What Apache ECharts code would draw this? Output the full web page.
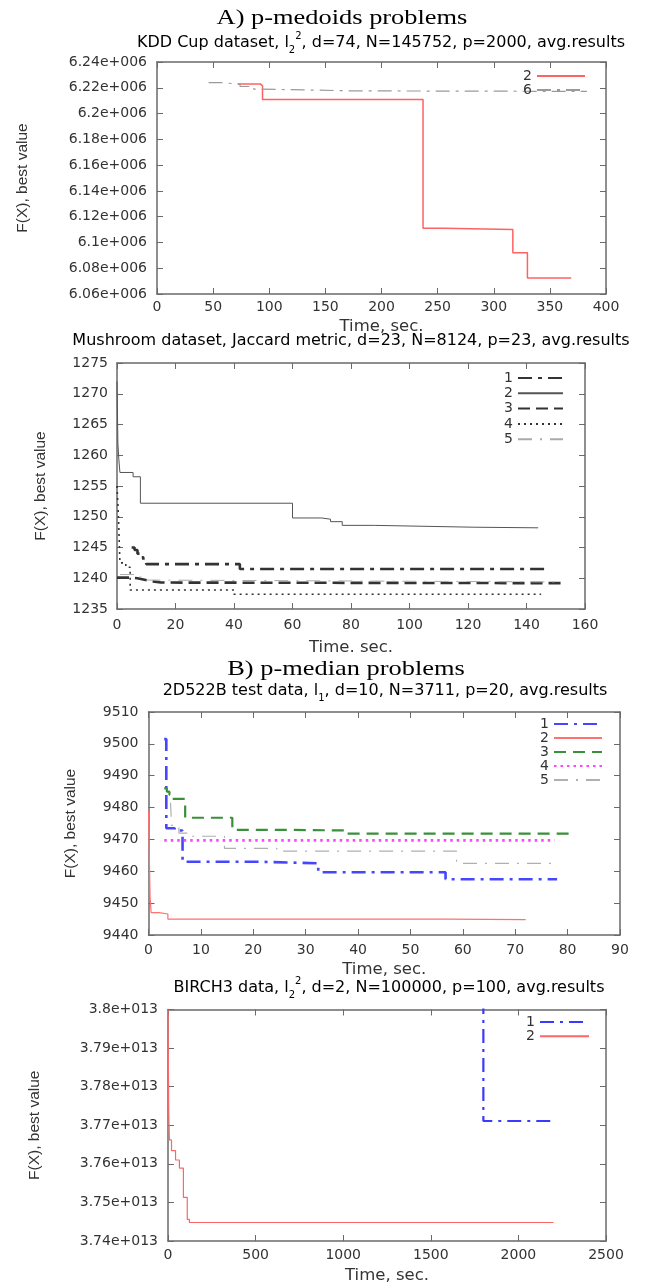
<!DOCTYPE html>
<html>
<head>
<meta charset="utf-8">
<script src="https://cdn.jsdelivr.net/npm/echarts@6/dist/echarts.min.js"></script>
<style>
  * { margin: 0; padding: 0; }
  body { background: #fff; }
</style>
</head>
<body>
<div id="main" style="width: 646px;height: 1287px;"></div>
<script>
// A) KDD Cup, step series [time, F(X)]
var kdd2 = [[72, 6223000], [92, 6221500], [94, 6211000], [237, 6111000], [256, 6110000], [317, 6092000], [330, 6072500], [369, 6072500]];
var kdd6 = [[46, 6224000], [57, 6222800], [74, 6221000], [86, 6219000], [91, 6217600], [175, 6217200], [383, 6217200]];

// A) Mushroom
var mush1 = [[5, 1245], [6, 1244.6], [7, 1244], [8, 1243.4], [9, 1242.8], [10, 1242.3], [42, 1241.5], [147, 1241.5]];
var mush2 = [[0, 1272], [0.3, 1262], [0.6, 1259.5], [1, 1257.2], [5.5, 1256.5], [8, 1252.2], [60, 1249.8], [70, 1249.6], [73, 1249.2], [77, 1248.6], [88, 1248.3], [122, 1248.2], [144, 1248.2]];
var mush3 = [[0, 1240.1], [5, 1240], [7, 1239.8], [9, 1239.5], [12, 1239.3], [15, 1239.2], [153, 1239.2]];
var mush4 = [[0, 1255], [0.5, 1250], [1, 1242.5], [3, 1241.8], [4.5, 1238.1], [40, 1237.4], [145, 1237.4]];
var mush5 = [[1, 1240.6], [6, 1240.2], [10, 1239.7], [14, 1239.4], [150, 1239.4]];

// B) 2D522B
var d1 = [[3, 9501.5], [3.4, 9473.5], [5, 9472.8], [6.5, 9463], [21, 9462.5], [32.4, 9459.7], [56.7, 9457.5], [78, 9457.5]];
var d2 = [[0, 9479], [0.3, 9452], [0.5, 9447], [2, 9446.6], [3.7, 9445], [57, 9444.8], [72, 9444.8]];
var d3 = [[3, 9486], [3.5, 9485], [4, 9484], [4.5, 9482.7], [7, 9476.8], [16, 9473], [27, 9472.8], [38, 9471.8], [80.6, 9471.8]];
var d4 = [[3, 9469.7], [77.5, 9469.7]];
var d5 = [[4.2, 9481.5], [4.4, 9474.4], [5.8, 9472], [7.5, 9471], [14.5, 9467.2], [24.5, 9466.3], [58.8, 9462.5], [77.8, 9462.5]];

// B) BIRCH3
var b1 = [[1800, 3.81e13], [1800, 3.7711e13], [2200, 3.7711e13]];
var b2 = [[0, 3.80e13], [4, 3.774e13], [8, 3.7662e13], [20, 3.7634e13], [43, 3.761e13], [65, 3.7589e13], [88, 3.7513e13], [110, 3.7456e13], [122, 3.7448e13], [2200, 3.7448e13]];

// axis ranges [min, max, interval]
var kddX = [0, 400, 50], kddY = [6060000, 6240000, 20000];
var mushX = [0, 160, 20], mushY = [1235, 1275, 5];
var dX = [0, 90, 10], dY = [9440, 9510, 10];
var bX = [0, 2500, 500], bY = [3.74e13, 3.80e13, 1e11];

var FONT = 'DejaVu Sans';
var TXT = '#333';
var FRAME = '#6a6a6a';

function sci(v, base, exp) {
    return parseFloat((v / base).toFixed(2)) + 'e+' + exp;
}
function plain(v) {
    return String(v);
}

var panels = [
    {
        grid: {left: 157, top: 62, width: 449, height: 232},
        x: kddX, y: kddY, yFmt: function (v) { return sci(v, 1e6, '006'); },
        xName: 'Time, sec.', xNameGap: 24, xMargin: 6, yNameGap: 126, yMargin: 10,
        legend: {right: 60, top: 69, itemWidth: 48, itemGap: 0},
        series: [
            {name: 'a2', data: kdd2, color: '#ff6262', width: 1.5, dash: 'solid'},
            {name: 'a6', data: kdd6, color: '#9a9a9a', width: 1.2, dash: [14, 6, 3, 6]}
        ]
    },
    {
        grid: {left: 117, top: 363, width: 468, height: 246},
        x: mushX, y: mushY, yFmt: plain,
        xName: 'Time. sec.', xNameGap: 30, xMargin: 9, yNameGap: 68, yMargin: 9,
        legend: {right: 82, top: 371, itemWidth: 45, itemGap: 1.3},
        series: [
            {name: 'b1', data: mush1, color: '#333', width: 2.6, dash: [14, 6, 4, 6]},
            {name: 'b2', data: mush2, color: '#555', width: 1, dash: 'solid'},
            {name: 'b3', data: mush3, color: '#333', width: 2.6, dash: [12, 6]},
            {name: 'b4', data: mush4, color: '#333', width: 1.6, dash: [2, 4]},
            {name: 'b5', data: mush5, color: '#aaa', width: 1, dash: [14, 8, 2, 8]}
        ]
    },
    {
        grid: {left: 148.5, top: 712, width: 471.5, height: 223},
        x: dX, y: dY, yFmt: plain,
        xName: 'Time, sec.', xNameGap: 26, xMargin: 8, yNameGap: 70, yMargin: 10,
        legend: {right: 43, top: 717, itemWidth: 48, itemGap: 0},
        series: [
            {name: 'c1', data: d1, color: '#4646ff', width: 2.6, dash: [14, 6, 3, 6]},
            {name: 'c2', data: d2, color: '#ff7070', width: 1.2, dash: 'solid'},
            {name: 'c3', data: d3, color: '#3a903a', width: 2.2, dash: [12, 7]},
            {name: 'c4', data: d4, color: '#ff44ff', width: 2.6, dash: [2.5, 4]},
            {name: 'c5', data: d5, color: '#b0b0b0', width: 1.2, dash: [14, 8, 2, 8]}
        ]
    },
    {
        grid: {left: 168, top: 1009.5, width: 438, height: 231.5},
        x: bX, y: bY, yFmt: function (v) { return sci(v, 1e13, '013'); },
        xName: 'Time, sec.', xNameGap: 26, xMargin: 7, yNameGap: 125, yMargin: 10,
        legend: {right: 56, top: 1015, itemWidth: 49, itemGap: 0.3},
        series: [
            {name: 'd1', data: b1, color: '#3a3aff', width: 2.2, dash: [14, 6, 3, 6]},
            {name: 'd2', data: b2, color: '#ff6666', width: 1.2, dash: 'solid'}
        ]
    }
];

function axisBase(g, r, pos) {
    return {
        type: 'value', gridIndex: g, position: pos,
        min: r[0], max: r[1], interval: r[2],
        axisLine: {show: true, onZero: false, lineStyle: {color: FRAME, width: 1.5}},
        axisTick: {show: true, inside: true, length: 6, lineStyle: {color: FRAME, width: 1}},
        splitLine: {show: false}
    };
}

var grids = [], xAxes = [], yAxes = [], series = [], legends = [];
panels.forEach(function (p, i) {
    grids.push(p.grid);

    var xb = axisBase(i, p.x, 'bottom');
    xb.name = p.xName;
    xb.nameLocation = 'middle';
    xb.nameGap = p.xNameGap;
    xb.nameTextStyle = {fontFamily: FONT, fontSize: 16.5, color: TXT};
    xb.axisLabel = {fontFamily: FONT, fontSize: 14, color: TXT, margin: p.xMargin, formatter: plain};
    var xt = axisBase(i, p.x, 'top');
    xt.axisLabel = {show: false};
    xAxes.push(xb, xt);

    var yl = axisBase(i, p.y, 'left');
    yl.name = 'F(X), best value';
    yl.nameLocation = 'middle';
    yl.nameGap = p.yNameGap;
    yl.nameTextStyle = {fontFamily: 'Liberation Sans', fontSize: 15.5, color: TXT};
    yl.axisLabel = {fontFamily: FONT, fontSize: 14, color: TXT, margin: p.yMargin, formatter: p.yFmt};
    var yr = axisBase(i, p.y, 'right');
    yr.axisLabel = {show: false};
    yAxes.push(yl, yr);

    p.series.forEach(function (s) {
        series.push({
            type: 'line', name: s.name, data: s.data,
            xAxisIndex: 2 * i, yAxisIndex: 2 * i,
            step: 'end', symbol: 'none', showSymbol: false, clip: true,
            lineStyle: {color: s.color, width: s.width, type: s.dash, cap: 'butt'},
            itemStyle: {color: s.color}
        });
    });

    legends.push({
        data: p.series.map(function (s) { return s.name; }),
        orient: 'vertical', right: p.legend.right, top: p.legend.top,
        padding: 0,
        align: 'right', itemWidth: p.legend.itemWidth, itemHeight: 8,
        itemGap: p.legend.itemGap, selectedMode: false,
        itemStyle: {opacity: 0},
        formatter: function (n) { return n.slice(1); },
        textStyle: {fontFamily: FONT, fontSize: 14, color: TXT, lineHeight: 10}
    });
});

var subRich = {
    a: {fontFamily: FONT, fontSize: 16, color: TXT, lineHeight: 24},
    sub: {fontFamily: FONT, fontSize: 10, color: TXT, verticalAlign: 'bottom'},
    sup: {fontFamily: FONT, fontSize: 10, color: TXT, verticalAlign: 'top'}
};

function caption(x, y, text) {
    return {
        type: 'text', x: x, y: y, silent: true,
        style: {text: text, rich: subRich, align: 'center', verticalAlign: 'middle',
                textAlign: 'center', textVerticalAlign: 'middle'}
    };
}

function heading(x, y, text) {
    return {
        type: 'text', x: x, y: y, scaleX: 1.2, silent: true,
        style: {text: text, font: '22px "Liberation Serif"', fill: '#000',
                align: 'center', verticalAlign: 'middle',
                textAlign: 'center', textVerticalAlign: 'middle'}
    };
}

var chart = echarts.init(document.getElementById('main'));
chart.setOption({
    backgroundColor: '#fff',
    animation: false,
    grid: grids,
    xAxis: xAxes,
    yAxis: yAxes,
    legend: legends,
    series: series,
    graphic: [
        heading(342, 18, 'A) p-medoids problems'),
        caption(381, 43, '{a|KDD Cup dataset, l}{sub|2}{sup|2}{a|, d=74, N=145752, p=2000, avg.results}'),
        caption(351, 341, '{a|Mushroom dataset, Jaccard metric, d=23, N=8124, p=23, avg.results}'),
        heading(346, 669, 'B) p-median problems'),
        caption(385, 691, '{a|2D522B test data, l}{sub|1}{a|, d=10, N=3711, p=20, avg.results}'),
        caption(389, 988, '{a|BIRCH3 data, l}{sub|2}{sup|2}{a|, d=2, N=100000, p=100, avg.results}')
    ]
});
</script>
</body>
</html>
